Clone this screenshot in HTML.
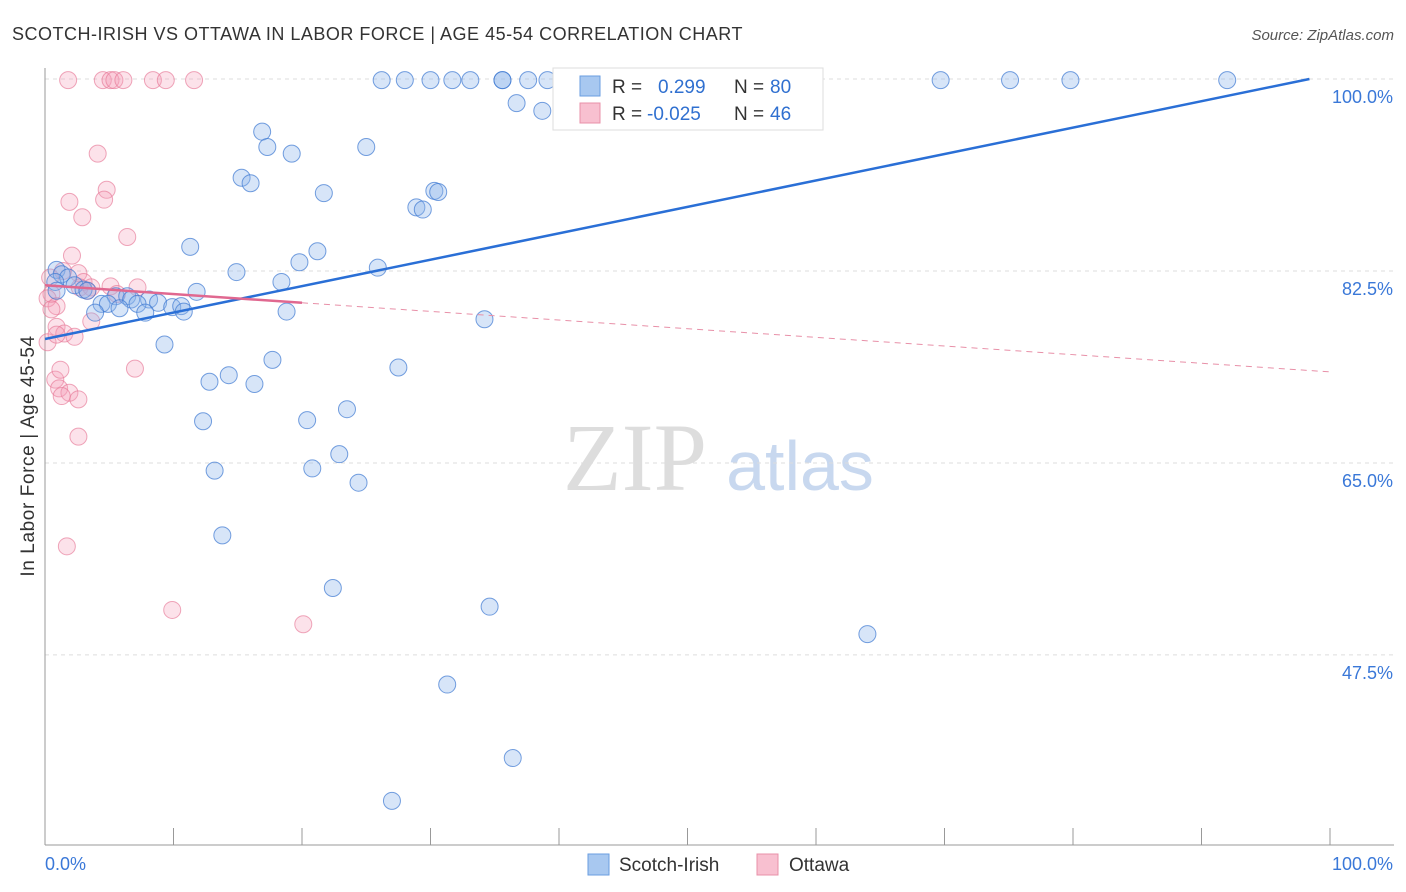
<!DOCTYPE html>
<html><head><meta charset="utf-8">
<style>
body{margin:0;background:#fff;font-family:"Liberation Sans",sans-serif;}
svg{display:block}
</style></head>
<body>
<svg id="chart" width="1406" height="892">
<text x="12" y="40" font-size="18" fill="#333" letter-spacing="0.5">SCOTCH-IRISH VS OTTAWA IN LABOR FORCE | AGE 45-54 CORRELATION CHART</text>
<text x="1394" y="40" font-size="15" fill="#555" font-style="italic" text-anchor="end">Source: ZipAtlas.com</text>
<text x="34" y="456" font-size="19" fill="#333" letter-spacing="0.6" text-anchor="middle" transform="rotate(-90 34 456)">In Labor Force | Age 45-54</text>
<g><text x="635" y="490" font-size="96" font-family="Liberation Serif,serif" fill="#ddd" text-anchor="middle">ZIP</text><text x="800" y="490" font-size="70" fill="#c8d8ef" text-anchor="middle">atlas</text></g>
<g id="grid"></g><g id="axes"></g><g id="pts"></g><g id="trend"></g>
<g>
<rect x="553" y="68" width="270" height="62" fill="#fff" stroke="#ddd"/>
<rect x="580" y="76" width="20" height="20" fill="#a8c8f0" stroke="#6a9ee0"/>
<rect x="580" y="103" width="20" height="20" fill="#f8c0d0" stroke="#e890a8"/>
<text x="612" y="93" font-size="19" fill="#333">R = </text><text x="658" y="93" font-size="19" fill="#3070d0">0.299</text>
<text x="734" y="93" font-size="19" fill="#333">N = </text><text x="770" y="93" font-size="19" fill="#3070d0">80</text>
<text x="612" y="120" font-size="19" fill="#333">R = </text><text x="647" y="120" font-size="19" fill="#3070d0">-0.025</text>
<text x="734" y="120" font-size="19" fill="#333">N = </text><text x="770" y="120" font-size="19" fill="#3070d0">46</text>
</g>
<g>
<rect x="588" y="854" width="21" height="21" fill="#a8c8f0" stroke="#6a9ee0"/>
<text x="619" y="871" font-size="19" fill="#333">Scotch-Irish</text>
<rect x="757" y="854" width="21" height="21" fill="#f8c0d0" stroke="#e890a8"/>
<text x="789" y="871" font-size="19" fill="#333">Ottawa</text>
</g>
</svg>
<script>
const yTicks=[100,82.5,65,47.5];
const yTickLabels=["100.0%","82.5%","65.0%","47.5%"];
const blueX=[26.2,28,30,31.7,33.1,35.6,35.6,37.6,39.1,43,46.2,69.7,75.1,79.8,92,36.7,38.7,16.9,17.3,19.2,25,15.3,16,21.7,30.3,30.6,28.9,29.4,11.3,21.2,19.8,25.9,14.9,18.4,0.9,1.3,1.8,0.8,2.3,3,3.3,0.9,5.5,6.4,6.7,8.1,8.8,11.8,4.4,4.9,5.8,7.2,7.8,9.9,10.6,10.8,3.9,18.8,34.2,9.3,27.5,17.7,14.3,12.8,16.3,23.5,12.3,20.4,22.9,20.8,13.2,24.4,13.8,22.4,34.6,64,31.3,36.4,27]
const blueY=[99.9,99.9,99.9,99.9,99.9,99.9,99.9,99.9,99.9,99.9,99.9,99.9,99.9,99.9,99.9,97.8,97.1,95.2,93.8,93.2,93.8,91,90.5,89.6,89.8,89.7,88.3,88.1,84.7,84.3,83.3,82.8,82.4,81.5,82.6,82.2,81.9,81.5,81.2,80.8,80.7,80.7,80.2,80.2,79.9,79.9,79.6,80.6,79.5,79.5,79.1,79.5,78.7,79.2,79.3,78.8,78.7,78.8,78.1,75.8,73.7,74.4,73,72.4,72.2,69.9,68.8,68.9,65.8,64.5,64.3,63.2,58.4,53.6,51.9,49.4,44.8,38.1,34.2];
const pinkX=[1.8,4.5,5.1,5.4,6.1,8.4,9.4,11.6,4.1,4.8,4.6,1.9,2.9,6.4,2.1,1.4,2.6,0.4,3,2.7,3.6,5.1,7.2,5.6,3.3,0.5,0.2,0.9,0.5,3.6,0.9,1.5,2.3,0.2,0.9,0.8,1.2,1.1,1.9,1.3,2.6,7,2.6,1.7,9.9,20.1];
const pinkY=[99.9,99.9,99.9,99.9,99.9,99.9,99.9,99.9,93.2,89.9,89,88.8,87.4,85.6,83.9,82.5,82.3,81.9,81.5,81,81,81.1,81,80.4,80.7,80.4,80,79.3,79,77.9,77.4,76.8,76.5,76,76.7,72.6,73.5,71.8,71.4,71.1,70.8,73.6,67.4,57.4,51.6,50.3];
const blueTrend=[0,76.3,98.4,100];
const pinkTrend=[0,81.2,20,79.6,100,73.3];
const X=v=>45+v*12.85, Y=v=>79+(100-v)*10.97;
const NS="http://www.w3.org/2000/svg";
function mk(p,t,a){const e=document.createElementNS(NS,t);for(const k in a)e.setAttribute(k,a[k]);document.getElementById(p).appendChild(e);return e;}
yTicks.forEach((t,i)=>{
 const l=mk('grid','line',{x1:45,x2:1394,y1:Y(t),y2:Y(t),stroke:'#ddd','stroke-dasharray':'4,4'});
 
 
 const tx=mk('grid','text',{x:1393,y:Y(t)+24,'font-size':18,fill:'#3a78d8','text-anchor':'end'});tx.textContent=yTickLabels[i];
 
 
});
mk('axes','line',{x1:45,x2:45,y1:68,y2:845,stroke:'#999'});
mk('axes','line',{x1:45,x2:1394,y1:845,y2:845,stroke:'#999'});
for(let i=0;i<=10;i++){const t=mk('axes','line',{x1:X(i*10),x2:X(i*10),y1:828,y2:845,stroke:'#999'});
 
 }
let a=mk('axes','text',{x:45,y:870,'font-size':18,fill:'#3a78d8'});a.textContent='0.0%';


a=mk('axes','text',{x:1393,y:870,'font-size':18,fill:'#3a78d8','text-anchor':'end'});a.textContent='100.0%';


pinkX.forEach((x,i)=>{const c=mk('pts','circle',{cx:X(x),cy:Y(pinkY[i]),r:8.5,fill:'rgba(245,160,185,0.3)',stroke:'rgba(230,120,150,0.65)'});
 
 });
blueX.forEach((x,i)=>{const c=mk('pts','circle',{cx:X(x),cy:Y(blueY[i]),r:8.5,fill:'rgba(140,180,235,0.35)',stroke:'rgba(60,120,210,0.7)'});
 
 });
let bl=mk('trend','line',{x1:X(blueTrend[0]),y1:Y(blueTrend[1]),x2:X(blueTrend[2]),y2:Y(blueTrend[3]),stroke:'#2a6fd6','stroke-width':2.5});


let pl=mk('trend','line',{x1:X(pinkTrend[0]),y1:Y(pinkTrend[1]),x2:X(pinkTrend[2]),y2:Y(pinkTrend[3]),stroke:'#e06890','stroke-width':2.5});


let pd=mk('trend','line',{x1:X(pinkTrend[2]),y1:Y(pinkTrend[3]),x2:X(pinkTrend[4]),y2:Y(pinkTrend[5]),stroke:'#e890a8','stroke-width':1,'stroke-dasharray':'6,5'});


</script>
</body></html>
